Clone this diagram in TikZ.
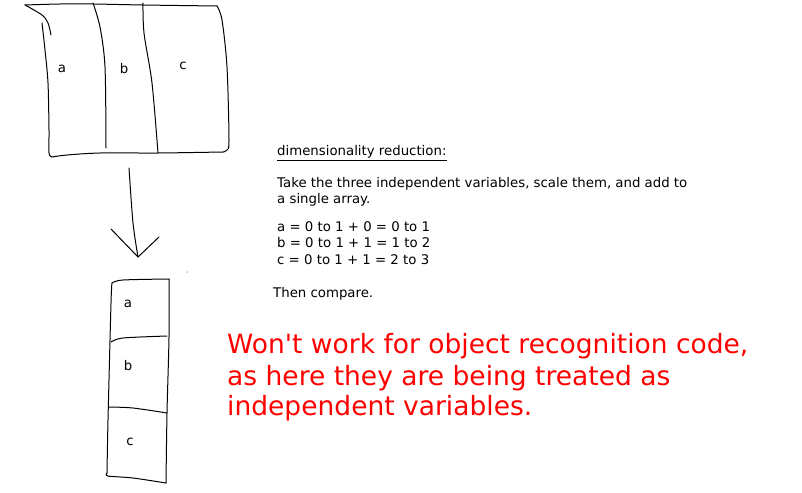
\documentclass[tikz,border=0pt]{standalone}
\usepackage{fontspec}
\setmainfont{DejaVu Sans}
\begin{document}
\begin{tikzpicture}[x=1pt,y=-1pt,
  pen/.style={line width=1pt,line cap=round,line join=round},
  lbl/.style={font=\fontsize{13.3}{15}\selectfont,inner sep=0pt},
  note/.style={font=\fontsize{13.3}{16}\selectfont,inner sep=0pt,anchor=base west},
  warn/.style={font=\fontsize{26.5}{31}\selectfont,inner sep=0pt,anchor=base west,text=red,align=left}]
\useasboundingbox (0,0) rectangle (802,492);
% top sketch box
\draw[pen] plot[smooth,tension=0.5] coordinates {(25,5) (60,4) (93,4) (143,5) (217,6)};
\draw[pen] plot[smooth,tension=0.5] coordinates {(25,5) (42,15) (48,23) (51,35)};
\draw[pen] plot[smooth,tension=0.5] coordinates {(42,23) (45,50) (48,83) (49,130) (49,153) (52,157)};
\draw[pen] plot[smooth,tension=0.5] coordinates {(52,157) (67,155) (100,153) (158,153) (223,152)};
\draw[pen] plot[smooth,tension=0.5] coordinates {(217,6) (222,20) (227,67) (229,140) (227,150) (223,152)};
\draw[pen] plot[smooth,tension=0.5] coordinates {(93,3) (100,27) (105,67) (106,148)};
\draw[pen] plot[smooth,tension=0.5] coordinates {(143,3) (144,33) (152,83) (158,153)};
\node[lbl] (la) at (62,69) {a};
\node[lbl] (lb) at (124,69) {b};
\node[lbl] (lc) at (183,66) {c};
% arrow
\coordinate (tip) at (138,257);
\draw[pen] plot[smooth,tension=0.5] coordinates {(129,168) (133,223) (tip)};
\draw[pen] (111,229) -- (tip) -- (159,237);
\fill (187,272) circle (0.5);
% bottom box
\draw[pen] plot[smooth,tension=0.5] coordinates {(112,283) (123,280) (169,279)};
\draw[pen] plot[smooth,tension=0.5] coordinates {(112,283) (111,303) (108,420) (107,473)};
\draw[pen] plot[smooth,tension=0.5] coordinates {(107,473) (108,476) (133,478) (166,483)};
\draw[pen] plot[smooth,tension=0.5] coordinates {(169,279) (169,337) (167,413) (166,483)};
\draw[pen] plot[smooth,tension=0.5] coordinates {(111,342) (123,338) (167,336)};
\draw[pen] plot[smooth,tension=0.5] coordinates {(109,407) (133,408) (167,413)};
\node[lbl] (ba) at (128,304) {a};
\node[lbl] (bb) at (128,366) {b};
\node[lbl] (bc) at (130,442) {c};
% notes
\node[note] (t0) at (277,155.7) {dimensionality reduction:};
\draw[line width=0.8pt] (277,160) -- (t0.east |- 0,160);
\node[note] (t1) at (277,187.7) {Take the three independent variables, scale them, and add to};
\node[note] (t2) at (277,203) {a single array.};
\node[note] (t3) at (277,231.7) {a = 0 to 1 + 0 = 0 to 1};
\node[note] (t4) at (277,247.7) {b = 0 to 1 + 1 = 1 to 2};
\node[note] (t5) at (277,264) {c = 0 to 1 + 1 = 2 to 3};
\node[note] (t6) at (273,297.7) {Then compare.};
\node[warn] (w1) at (227,353.3) {Won\textquotesingle t work for object recognition code,};
\node[warn] (w2) at (227,385) {as here they are being treated as};
\node[warn] (w3) at (227,415.7) {independent variables.};
\end{tikzpicture}
\end{document}
